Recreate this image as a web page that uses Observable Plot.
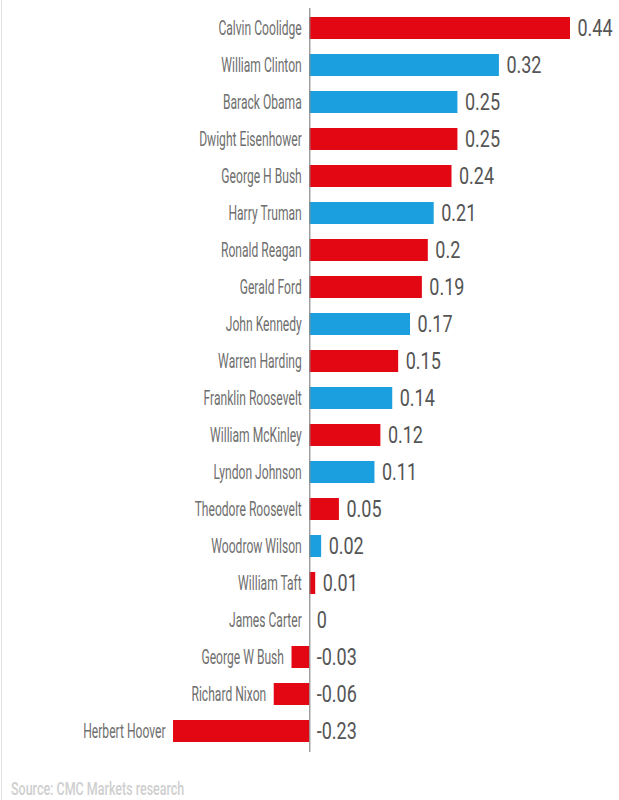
<!DOCTYPE html>
<html>
<head>
<meta charset="utf-8">
<script src="https://cdn.jsdelivr.net/npm/d3@7"></script>
<script src="https://cdn.jsdelivr.net/npm/@observablehq/plot@0.6"></script>
<style>
  html, body { margin: 0; padding: 0; background: #fff; }
  body { width: 619px; height: 800px; position: relative; overflow: hidden; font-family: Roboto, sans-serif; }
  #chart { position: absolute; left: 0; top: 0; }
  #source { position: absolute; left: 11px; top: 780px; font-size: 18.5px; line-height: 19px; font-weight: 500; color: #cfcfcf;
            white-space: nowrap; transform: scaleX(0.675); transform-origin: 0 0; }
  #edge { position: absolute; left: 1px; top: 0; width: 1px; height: 800px; background: #e2e2e2; }
</style>
</head>
<body>
<div id="edge"></div>
<div id="chart"></div>
<div id="source">Source: CMC Markets research</div>
<script>
const presidents = ["Calvin Coolidge","William Clinton","Barack Obama","Dwight Eisenhower","George H Bush","Harry Truman","Ronald Reagan","Gerald Ford","John Kennedy","Warren Harding","Franklin Roosevelt","William McKinley","Lyndon Johnson","Theodore Roosevelt","Woodrow Wilson","William Taft","James Carter","George W Bush","Richard Nixon","Herbert Hoover"];
const values = [0.44,0.32,0.25,0.25,0.24,0.21,0.2,0.19,0.17,0.15,0.14,0.12,0.11,0.05,0.02,0.01,0,-0.03,-0.06,-0.23];
const parties = ["R","D","D","R","R","D","R","R","D","R","D","R","D","R","D","R","D","R","R","R"];
const partyNames = ["R","D"];
const partyColors = ["#e30613","#1b9fdf"];

const data = presidents.map((p, i) => ({name: p, value: values[i], party: parties[i]}));

const chart = Plot.plot({
  width: 619,
  height: 759,
  marginTop: 0,
  marginBottom: 0,
  marginLeft: 173,
  marginRight: 49,
  style: {fontFamily: "Roboto, sans-serif", background: "transparent"},
  x: {domain: [-0.23, 0.44], axis: null},
  y: {domain: presidents, axis: null, padding: 0.4},
  color: {domain: partyNames, range: partyColors},
  marks: [
    Plot.barX(data, {x: "value", y: "name", fill: "party"}),
    Plot.ruleX([0], {stroke: "#888", strokeWidth: 1.2, insetTop: 8, insetBottom: 7}),
    Plot.text(data, {x: d => Math.min(0, d.value), y: "name", text: "name", textAnchor: "end", dx: -8, fill: "#6e6e6e", fontSize: 19.5}),
    Plot.text(data, {x: d => Math.max(0, d.value), y: "name", text: d => String(d.value), textAnchor: "start", dx: 7, fill: "#555", fontSize: 24})
  ]
});

// condense the glyphs (the reference uses a narrow typeface)
const groups = chart.querySelectorAll('g[aria-label="text"]');
const squeeze = [0.62, 0.75];
groups.forEach((g, gi) => {
  g.querySelectorAll("text").forEach(t => {
    const tr = t.getAttribute("transform") || "";
    t.setAttribute("transform", `${tr} scale(${squeeze[gi]},1)`);
  });
});
document.getElementById("chart").appendChild(chart);
</script>
</body>
</html>
